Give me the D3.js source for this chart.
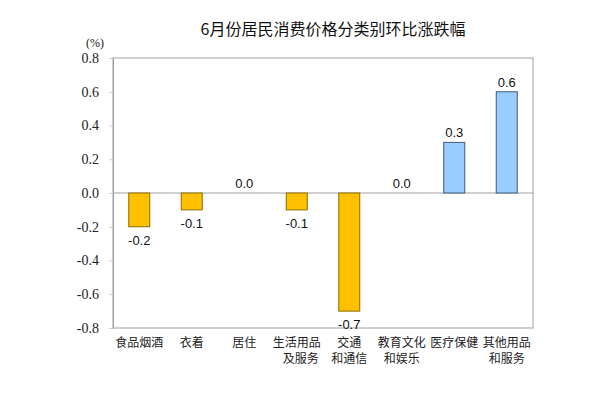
<!DOCTYPE html>
<html><head><meta charset="utf-8">
<script src="https://cdn.jsdelivr.net/npm/d3@7"></script>
<style>body{margin:0;background:#fff}</style>
</head><body>
<svg id="c" width="599" height="395"></svg>
<script>
const categories = [["食品烟酒"],["衣着"],["居住"],["生活用品","及服务"],["交通","和通信"],["教育文化","和娱乐"],["医疗保健"],["其他用品","和服务"]];
const values = [-0.2,-0.1,0.0,-0.1,-0.7,0.0,0.3,0.6];
const yTicks = [0.8,0.6,0.4,0.2,0.0,-0.2,-0.4,-0.6,-0.8];
const title = "6月份居民消费价格分类别环比涨跌幅";

const svg = d3.select("#c");
const m = {l:113, r:533, t:58, b:328};
const x = d3.scaleBand().domain(d3.range(categories.length)).range([m.l,m.r]).paddingInner(0.6).paddingOuter(0.3);
const y = d3.scaleLinear().domain([-0.8,0.8]).range([m.b,m.t]);
const data = values.map((v,i)=>({v,i}));
const serif = "'Liberation Serif','Times New Roman',Times,serif";

svg.append("text").attr("x",333).attr("y",35).attr("text-anchor","middle")
  .attr("font-family","Noto Sans CJK SC").attr("font-size",16).attr("fill","#111").text(title);
svg.append("text").attr("x",95).attr("y",47).attr("text-anchor","middle")
  .style("font-family",serif).attr("font-size",12).attr("fill","#222").text("(%)");

svg.append("rect").attr("x",m.l).attr("y",m.t).attr("width",m.r-m.l).attr("height",m.b-m.t)
  .attr("fill","none").attr("stroke","#a0a0a0").attr("stroke-width",1);

const ax = svg.append("g").attr("transform",`translate(${m.l},0)`)
  .call(d3.axisLeft(y).tickValues(yTicks).tickSize(4).tickPadding(10));
ax.attr("font-family",null);
ax.select(".domain").attr("stroke","#a0a0a0");
ax.selectAll(".tick line").attr("stroke","#d0d0d0");
ax.selectAll(".tick text").style("font-family",serif).attr("font-size",14).attr("fill","#222")
  .text(d => d.toFixed(1));

svg.append("line").attr("x1",m.l).attr("x2",m.r).attr("y1",y(0)).attr("y2",y(0)).attr("stroke","#a0a0a0");

const g = svg.append("g");
g.selectAll("rect.bar").data(data.filter(d=>d.v!==0)).enter().append("rect")
  .attr("x",d=>x(d.i)).attr("width",x.bandwidth())
  .attr("y",d=>y(Math.max(0,d.v))).attr("height",d=>Math.abs(y(d.v)-y(0)))
  .attr("fill",d=>d.v<0?"#FFC000":"#99CCFF")
  .attr("stroke",d=>d.v<0?"#8c6d00":"#3f5b78").attr("stroke-width",1);

g.selectAll("text.v").data(data).enter().append("text")
  .attr("x",d=>x(d.i)+x.bandwidth()/2)
  .attr("y",d=>d.v<0?y(d.v)+18:y(d.v)-5)
  .attr("text-anchor","middle").style("font-family","'Liberation Sans', Arial, sans-serif").attr("font-size",13).attr("fill","#111")
  .text(d=>d.v.toFixed(1));

const cl = svg.append("g");
categories.forEach((lines,i)=>{
  lines.forEach((t,j)=>{
    cl.append("text").attr("x",x(i)+x.bandwidth()/2 + (j>0 && i===3?4:0)).attr("y",347+j*16)
      .attr("text-anchor","middle").attr("font-family","Noto Sans CJK SC").attr("font-size",12)
      .attr("fill","#222").text(t);
  });
});
</script>
</body></html>
